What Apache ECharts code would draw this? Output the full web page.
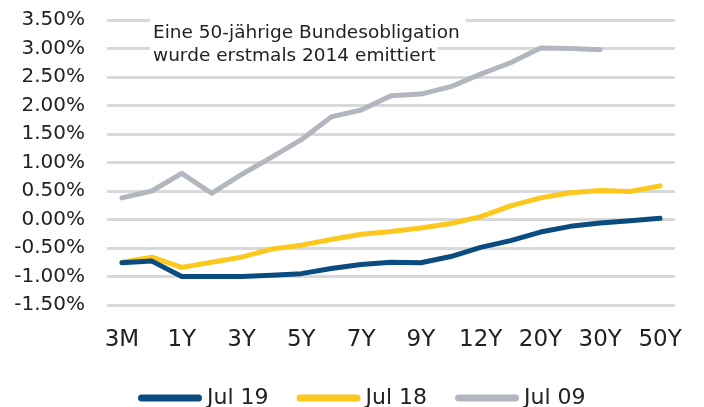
<!DOCTYPE html>
<html><head><meta charset="utf-8">
<script src="https://cdn.jsdelivr.net/npm/echarts@6/dist/echarts.min.js"></script>
<style>html,body{margin:0;padding:0;background:#fff}#c{width:704px;height:407px}</style>
</head><body><div id="c"></div>
<script>
var categories = ['3M','6M','1Y','2Y','3Y','4Y','5Y','6Y','7Y','8Y','9Y','10Y','12Y','15Y','20Y','25Y','30Y','40Y','50Y'];
var jul19 = [-0.76,-0.73,-1.00,-1.00,-1.00,-0.98,-0.95,-0.86,-0.79,-0.75,-0.76,-0.65,-0.49,-0.37,-0.22,-0.12,-0.06,-0.02,0.02];
var jul18 = [-0.75,-0.66,-0.84,-0.75,-0.66,-0.52,-0.45,-0.35,-0.26,-0.21,-0.15,-0.07,0.05,0.24,0.38,0.47,0.51,0.49,0.59];
var jul09 = [0.38,0.50,0.81,0.46,0.79,1.09,1.40,1.80,1.92,2.17,2.20,2.33,2.55,2.75,3.01,3.00,2.98,null,null];
var seriesNames = ['Jul 19','Jul 18','Jul 09'];
var annotation = ['Eine 50-jährige Bundesobligation','wurde erstmals 2014 emittiert'];

var colors = ['#0b4c80','#fdc81e','#b2b6bf'];
var font = 'DejaVu Sans';
var txt = '#222';
var chart = echarts.init(document.getElementById('c'));
var pill = 'path://M3.5,0 L60.5,0 A3.5,3.5 0 0 1 60.5,7 L3.5,7 A3.5,3.5 0 0 1 3.5,0 Z';
function mk(name, data, i){
  return {name:name,type:'line',data:data,symbol:'none',smooth:false,icon:pill,
    lineStyle:{width:5,color:colors[i],cap:'round',join:'round'},itemStyle:{color:colors[i]},z:5-i};
}
chart.setOption({
  animation:false,
  textStyle:{fontFamily:font},
  grid:{left:107,right:29,top:20,bottom:102},
  xAxis:{type:'category',data:categories,boundaryGap:true,
    axisLine:{show:false},axisTick:{show:false},
    axisLabel:{interval:1,margin:24,fontSize:23,color:txt,fontFamily:font}},
  yAxis:{type:'value',min:-1.5,max:3.5,interval:0.5,
    axisLine:{show:false},axisTick:{show:false},
    splitLine:{lineStyle:{color:'#d9d9d9',width:3}},
    axisLabel:{margin:22,fontSize:20,color:txt,fontFamily:font,formatter:function(v){return v.toFixed(2)+'%';}}},
  legend:{top:382,left:133,itemWidth:64,itemHeight:7,itemGap:28,icon:pill,
    textStyle:{fontSize:22,color:txt,fontFamily:font},data:seriesNames},
  graphic:[
    {type:'text',left:150,top:18,z:100,style:{text:annotation[0],font:'18.5px "'+font+'"',fill:txt,backgroundColor:'#fff',padding:[6,6,1,3]}},
    {type:'text',left:150,top:46,z:100,style:{text:annotation[1],font:'18.5px "'+font+'"',fill:txt,backgroundColor:'#fff',padding:[1,2,2,3]}}
  ],
  series:[mk(seriesNames[2],jul09,2),mk(seriesNames[1],jul18,1),mk(seriesNames[0],jul19,0)]
});
</script></body></html>
